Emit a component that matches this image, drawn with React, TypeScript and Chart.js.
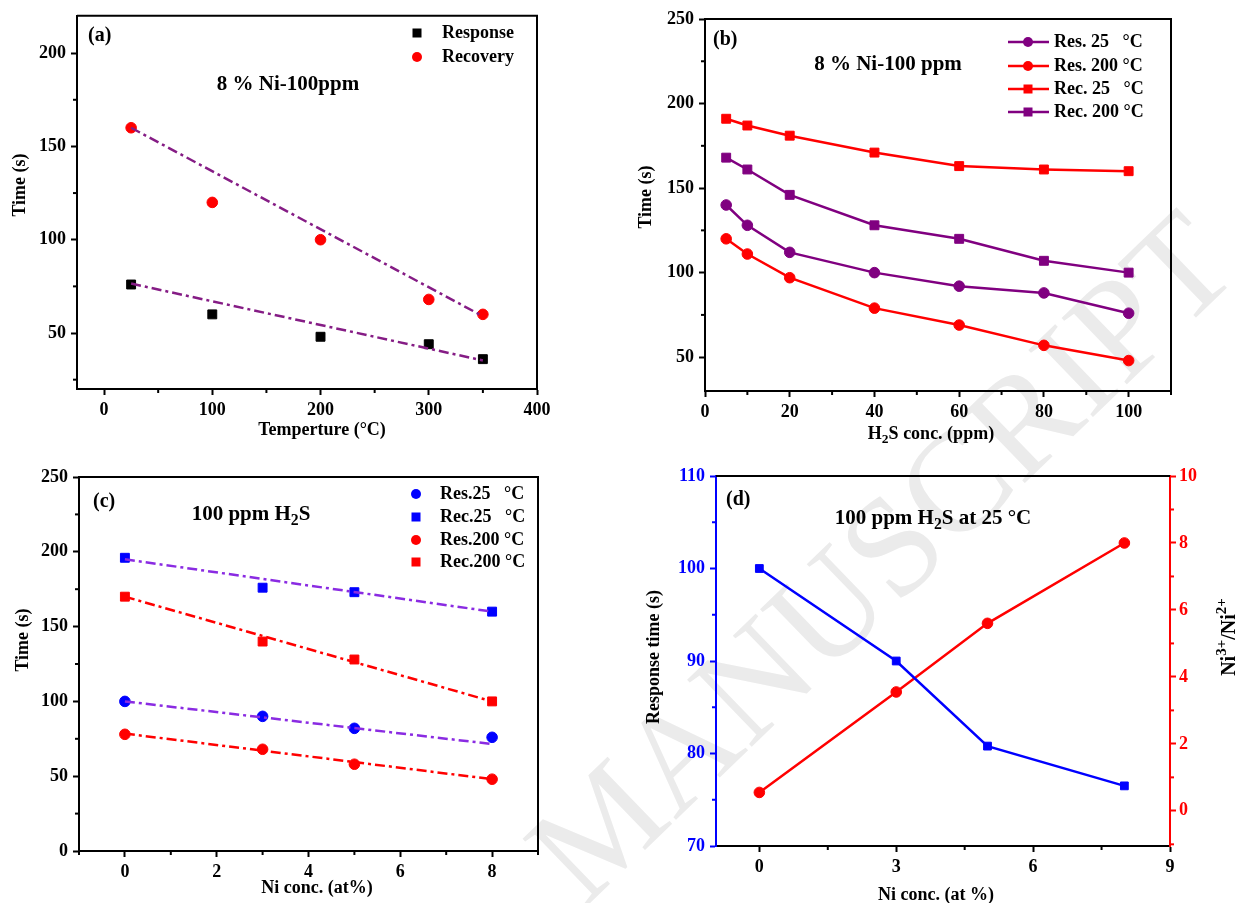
import React, { useEffect, useRef } from 'react';
import { Chart, registerables } from 'chart.js';
Chart.register(...registerables);

const FONT = '"Liberation Serif", "Times New Roman", serif';

// ---------- (a) ----------
const tempA = [25, 100, 200, 300, 350];
const responseA = [76, 60, 48, 44, 36];
const recoveryA = [160, 120, 100, 68, 60];
const fitTempA = [25, 350];
const responseFitA = [76.5, 35.3];
const recoveryFitA = [160, 59];
const xMajorA = [0, 100, 200, 300, 400];
const xMinorA = [50, 150, 250, 350];
const yMajorA = [50, 100, 150, 200];
const yMinorA = [25, 75, 125, 175];

// ---------- (b) ----------
const concB = [5, 10, 20, 40, 60, 80, 100];
const res25B = [140, 128, 112, 100, 92, 88, 76];
const res200B = [120, 111, 97, 79, 69, 57, 48];
const rec25B = [191, 187, 181, 171, 163, 161, 160];
const rec200B = [168, 161, 146, 128, 120, 107, 100];
const xMajorB = [0, 20, 40, 60, 80, 100];
const xMinorB = [10, 30, 50, 70, 90, 110];
const yMajorB = [50, 100, 150, 200, 250];
const yMinorB = [75, 125, 175, 225];

// ---------- (c) ----------
const niC = [0, 3, 5, 8];
const res25C = [100, 90, 82, 76];
const rec25C = [196, 176, 173, 160];
const res200C = [78, 68, 58, 48];
const rec200C = [170, 140, 128, 100];
const fitNiC = [0, 8];
const rec25FitC = [195, 160];
const rec200FitC = [170, 100];
const res25FitC = [100, 71.5];
const res200FitC = [78.5, 48];
const xMajorC = [0, 2, 4, 6, 8];
const xMinorC = [-1, 1, 3, 5, 7, 9];
const yMajorC = [0, 50, 100, 150, 200, 250];
const yMinorC = [25, 75, 125, 175, 225];

// ---------- (d) ----------
const niD = [0, 3, 5, 8];
const responseD = [100, 90, 80.8, 76.5];
const ratioD = [0.55, 3.55, 5.6, 8.0];
const xMajorD = [0, 3, 6, 9];
const xMinorD = [1.5, 4.5, 7.5];
const yMajorD = [70, 80, 90, 100, 110];
const yMinorD = [75, 85, 95, 105];
const y1MajorD = [0, 2, 4, 6, 8, 10];
const y1MinorD = [-1, 1, 3, 5, 7, 9];

const PURPLE = '#800080';
const FITPURPLE = '#851c85';
const VIOLET = '#8a2be2';
const RED = '#ff0000';
const BLUE = '#0000ff';

const TICK = 18;
const TITLE = 18;
const LEG = 18;
const NOTE = 21;
const LETTER = 20;
const CIRC = 5.3;
const SQ = 6.3;

type Part = [string, string?];
type Txt = { x: number; y: number; parts: Part[]; size: number; align: 'left' | 'center' | 'right'; rot?: number; color?: string };
type Leg = { x: number; y: number; style: 'rect' | 'circle'; color: string; line?: boolean; tx: number; text: string; size: number };

const pts = (xs: number[], ys: number[]) => xs.map((x, i) => ({ x, y: ys[i] }));

function markerSet(label: string, xs: number[], ys: number[], color: string, style: string, radius: number, line = false, yAxisID = 'y') {
  return {
    label, data: pts(xs, ys), showLine: line, borderColor: color, backgroundColor: color,
    pointBackgroundColor: color, pointBorderColor: color, pointBorderWidth: 1, pointStyle: style,
    pointRadius: radius, pointHoverRadius: radius, borderWidth: 2.5, tension: 0, yAxisID,
  };
}
function fitSet(label: string, xs: number[], ys: number[], color: string) {
  return {
    label, data: pts(xs, ys), showLine: true, borderColor: color, backgroundColor: color,
    borderWidth: 2.5, borderDash: [10, 4, 3, 4], pointRadius: 0, pointHoverRadius: 0, fill: false,
  };
}

function axis(o: { pos: string; min: number; max: number; major: number[]; fit: number; color?: string; padding?: number }) {
  const color = o.color || '#000';
  return {
    type: 'linear', position: o.pos, min: o.min, max: o.max,
    afterBuildTicks: (s: any) => { s.ticks = o.major.map((v) => ({ value: v })); },
    afterFit: (s: any) => { if (o.pos === 'bottom') s.height = o.fit; else s.width = o.fit; },
    ticks: { autoSkip: false, maxRotation: 0, color, padding: o.padding ?? 5, font: { family: FONT, size: TICK, weight: 'bold' } },
    grid: { display: true, drawOnChartArea: false, drawTicks: true, tickLength: 6, tickWidth: 2, tickColor: color },
    border: { display: true, color, width: 2 },
  };
}

function drawRich(ctx: CanvasRenderingContext2D, t: Txt) {
  ctx.save();
  ctx.translate(t.x, t.y);
  if (t.rot) ctx.rotate(t.rot);
  const base = t.size;
  const segs = t.parts.map(([s, m]) => {
    const sz = m ? base * 0.75 : base;
    ctx.font = `bold ${sz}px ${FONT}`;
    return { s, m, sz, w: ctx.measureText(s).width };
  });
  const total = segs.reduce((a, b) => a + b.w, 0);
  let x = t.align === 'center' ? -total / 2 : t.align === 'right' ? -total : 0;
  ctx.textBaseline = 'middle';
  ctx.textAlign = 'left';
  ctx.fillStyle = t.color || '#000';
  for (const g of segs) {
    ctx.font = `bold ${g.sz}px ${FONT}`;
    const dy = g.m === 'sub' ? base * 0.3 : g.m === 'sup' ? -base * 0.38 : 0;
    ctx.fillText(g.s, x, dy);
    x += g.w;
  }
  ctx.restore();
}

function makeDeco(d: { minor: { id: string; values: number[]; color: string }[]; rightFrame: boolean; texts: Txt[]; legend: Leg[] }) {
  return {
    id: 'deco',
    afterDraw(chart: any) {
      const ctx: CanvasRenderingContext2D = chart.ctx;
      const a = chart.chartArea;
      ctx.save();
      ctx.lineWidth = 2;
      for (const m of d.minor) {
        const s = chart.scales[m.id];
        ctx.strokeStyle = m.color;
        for (const v of m.values) {
          const p = s.getPixelForValue(v);
          ctx.beginPath();
          if (m.id === 'x') { ctx.moveTo(p, a.bottom); ctx.lineTo(p, a.bottom + 4); }
          else if (m.id === 'y1') { ctx.moveTo(a.right, p); ctx.lineTo(a.right + 4, p); }
          else { ctx.moveTo(a.left, p); ctx.lineTo(a.left - 4, p); }
          ctx.stroke();
        }
      }
      ctx.strokeStyle = '#000';
      ctx.beginPath();
      ctx.moveTo(a.left, a.top);
      ctx.lineTo(a.right + (d.rightFrame ? 1 : 0), a.top);
      if (d.rightFrame) { ctx.moveTo(a.right, a.top - 1); ctx.lineTo(a.right, a.bottom + 1); }
      ctx.stroke();
      for (const L of d.legend) {
        ctx.fillStyle = L.color;
        ctx.strokeStyle = L.color;
        ctx.lineWidth = 2.5;
        if (L.line) {
          ctx.beginPath(); ctx.moveTo(L.x - 20, L.y); ctx.lineTo(L.x + 21, L.y); ctx.stroke();
        }
        if (L.style === 'rect') ctx.fillRect(L.x - 4.5, L.y - 4.5, 9, 9);
        else { ctx.beginPath(); ctx.arc(L.x, L.y, 5, 0, Math.PI * 2); ctx.fill(); }
        drawRich(ctx, { x: L.tx, y: L.y, parts: [[L.text]], size: L.size, align: 'left' });
      }
      for (const t of d.texts) drawRich(ctx, t);
      ctx.restore();
    },
  };
}

function baseConfig(datasets: any[], scales: any, padding: any, deco: any) {
  return {
    type: 'scatter',
    data: { datasets },
    options: {
      responsive: false, maintainAspectRatio: false, animation: false, events: [],
      layout: { padding },
      plugins: { legend: { display: false }, tooltip: { enabled: false } },
      scales,
    },
    plugins: [deco],
  };
}

const ROT = -Math.PI / 2;

function configA() {
  return baseConfig(
    [
      fitSet('Response fit', fitTempA, responseFitA, FITPURPLE),
      fitSet('Recovery fit', fitTempA, recoveryFitA, FITPURPLE),
      markerSet('Response', tempA, responseA, '#000', 'rect', SQ),
      markerSet('Recovery', tempA, recoveryA, RED, 'circle', CIRC),
    ],
    {
      x: axis({ pos: 'bottom', min: -25, max: 400, major: xMajorA, fit: 61 }),
      y: axis({ pos: 'left', min: 20, max: 220, major: yMajorA, fit: 77 }),
    },
    { left: 0, top: 15, right: 63, bottom: 0 },
    makeDeco({
      minor: [{ id: 'x', values: xMinorA, color: '#000' }, { id: 'y', values: yMinorA, color: '#000' }],
      rightFrame: true,
      texts: [
        { x: 20, y: 185, parts: [['Time (s)']], size: TITLE, align: 'center', rot: ROT },
        { x: 322, y: 430, parts: [['Temperture (°C)']], size: TITLE, align: 'center' },
        { x: 88, y: 36, parts: [['(a)']], size: LETTER, align: 'left' },
        { x: 288, y: 85, parts: [['8 % Ni-100ppm']], size: NOTE, align: 'center' },
      ],
      legend: [
        { x: 417, y: 33, style: 'rect', color: '#000', tx: 442, text: 'Response', size: LEG },
        { x: 417, y: 57, style: 'circle', color: RED, tx: 442, text: 'Recovery', size: LEG },
      ],
    })
  );
}

function configB() {
  return baseConfig(
    [
      markerSet('Res. 25 °C', concB, res25B, PURPLE, 'circle', CIRC, true),
      markerSet('Res. 200 °C', concB, res200B, RED, 'circle', CIRC, true),
      markerSet('Rec. 25 °C', concB, rec25B, RED, 'rect', SQ, true),
      markerSet('Rec. 200 °C', concB, rec200B, PURPLE, 'rect', SQ, true),
    ],
    {
      x: axis({ pos: 'bottom', min: 0, max: 110, major: xMajorB, fit: 59 }),
      y: axis({ pos: 'left', min: 30, max: 250, major: yMajorB, fit: 105 }),
    },
    { left: 0, top: 19, right: 74, bottom: 0 },
    makeDeco({
      minor: [{ id: 'x', values: xMinorB, color: '#000' }, { id: 'y', values: yMinorB, color: '#000' }],
      rightFrame: true,
      texts: [
        { x: 46, y: 197, parts: [['Time (s)']], size: TITLE, align: 'center', rot: ROT },
        { x: 331, y: 434, parts: [['H'], ['2', 'sub'], ['S conc. (ppm)']], size: TITLE, align: 'center' },
        { x: 113, y: 40, parts: [['(b)']], size: LETTER, align: 'left' },
        { x: 288, y: 65, parts: [['8 % Ni-100 ppm']], size: NOTE, align: 'center' },
      ],
      legend: [
        { x: 428, y: 42, style: 'circle', color: PURPLE, line: true, tx: 454, text: 'Res. 25   °C', size: LEG },
        { x: 428, y: 66, style: 'circle', color: RED, line: true, tx: 454, text: 'Res. 200 °C', size: LEG },
        { x: 428, y: 89, style: 'rect', color: RED, line: true, tx: 454, text: 'Rec. 25   °C', size: LEG },
        { x: 428, y: 112, style: 'rect', color: PURPLE, line: true, tx: 454, text: 'Rec. 200 °C', size: LEG },
      ],
    })
  );
}

function configC() {
  return baseConfig(
    [
      fitSet('Rec.25 fit', fitNiC, rec25FitC, VIOLET),
      fitSet('Rec.200 fit', fitNiC, rec200FitC, RED),
      fitSet('Res.25 fit', fitNiC, res25FitC, VIOLET),
      fitSet('Res.200 fit', fitNiC, res200FitC, RED),
      markerSet('Res.25 °C', niC, res25C, BLUE, 'circle', CIRC),
      markerSet('Rec.25 °C', niC, rec25C, BLUE, 'rect', SQ),
      markerSet('Res.200 °C', niC, res200C, RED, 'circle', CIRC),
      markerSet('Rec.200 °C', niC, rec200C, RED, 'rect', SQ),
    ],
    {
      x: axis({ pos: 'bottom', min: -1, max: 9, major: xMajorC, fit: 52 }),
      y: axis({ pos: 'left', min: 0, max: 250, major: yMajorC, fit: 79 }),
    },
    { left: 0, top: 27, right: 62, bottom: 0 },
    makeDeco({
      minor: [{ id: 'x', values: xMinorC, color: '#000' }, { id: 'y', values: yMinorC, color: '#000' }],
      rightFrame: true,
      texts: [
        { x: 23, y: 190, parts: [['Time (s)']], size: TITLE, align: 'center', rot: ROT },
        { x: 317, y: 438, parts: [['Ni conc. (at%)']], size: TITLE, align: 'center' },
        { x: 93, y: 52, parts: [['(c)']], size: LETTER, align: 'left' },
        { x: 251, y: 65, parts: [['100 ppm H'], ['2', 'sub'], ['S']], size: NOTE, align: 'center' },
      ],
      legend: [
        { x: 416, y: 44, style: 'circle', color: BLUE, tx: 440, text: 'Res.25   °C', size: LEG },
        { x: 416, y: 67, style: 'rect', color: BLUE, tx: 440, text: 'Rec.25   °C', size: LEG },
        { x: 416, y: 90, style: 'circle', color: RED, tx: 440, text: 'Res.200 °C', size: LEG },
        { x: 416, y: 112, style: 'rect', color: RED, tx: 440, text: 'Rec.200 °C', size: LEG },
      ],
    })
  );
}

function configD() {
  return baseConfig(
    [
      markerSet('Response time', niD, responseD, BLUE, 'rect', 5.5, true, 'y'),
      markerSet('Ni3+/Ni2+', niD, ratioD, RED, 'circle', CIRC, true, 'y1'),
    ],
    {
      x: axis({ pos: 'bottom', min: -0.95, max: 9, major: xMajorD, fit: 57 }),
      y: axis({ pos: 'left', min: 70, max: 110, major: yMajorD, fit: 116, color: BLUE }),
      y1: axis({ pos: 'right', min: -1.05, max: 10, major: y1MajorD, fit: 75, color: RED, padding: 3 }),
    },
    { left: 0, top: 26, right: 0, bottom: 0 },
    makeDeco({
      minor: [
        { id: 'x', values: xMinorD, color: '#000' },
        { id: 'y', values: yMinorD, color: BLUE },
        { id: 'y1', values: y1MinorD, color: RED },
      ],
      rightFrame: false,
      texts: [
        { x: 54, y: 207, parts: [['Response time (s)']], size: TITLE, align: 'center', rot: ROT },
        { x: 630, y: 187, parts: [['Ni'], ['3+', 'sup'], ['/Ni'], ['2+', 'sup']], size: 20, align: 'center', rot: ROT },
        { x: 336, y: 445, parts: [['Ni conc. (at %)']], size: TITLE, align: 'center' },
        { x: 126, y: 50, parts: [['(d)']], size: LETTER, align: 'left' },
        { x: 333, y: 69, parts: [['100 ppm H'], ['2', 'sub'], ['S at 25 °C']], size: NOTE, align: 'center' },
      ],
      legend: [],
    })
  );
}

function Panel({ left, top, width, height, make }: { left: number; top: number; width: number; height: number; make: () => any }) {
  const ref = useRef<HTMLCanvasElement>(null);
  useEffect(() => {
    const chart = new Chart(ref.current as HTMLCanvasElement, make());
    return () => chart.destroy();
  }, []);
  return <canvas ref={ref} width={width} height={height} style={{ position: 'absolute', left, top, width, height }} />;
}

export default function App() {
  return (
    <div style={{ position: 'absolute', left: 0, top: 0, width: 1245, height: 903, background: '#fff', overflow: 'hidden' }}>
      <div
        style={{
          position: 'absolute', left: 880, top: 556, transform: 'translate(-50%, -50%) rotate(-44deg)',
          fontFamily: FONT, fontSize: 142, lineHeight: 1, color: '#ebebeb', whiteSpace: 'nowrap',
        }}
      >
        MANUSCRIPT
      </div>
      <Panel left={0} top={0} width={600} height={450} make={configA} />
      <Panel left={600} top={0} width={645} height={450} make={configB} />
      <Panel left={0} top={450} width={600} height={453} make={configC} />
      <Panel left={600} top={450} width={645} height={453} make={configD} />
    </div>
  );
}
